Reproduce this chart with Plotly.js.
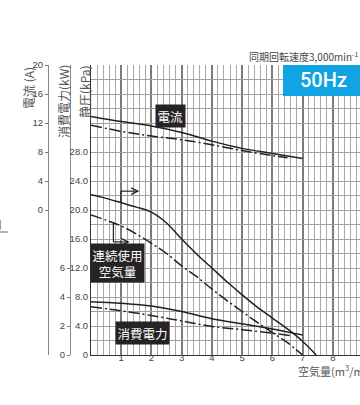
<!DOCTYPE html>
<html><head><meta charset="utf-8">
<script src="https://cdn.plot.ly/plotly-3.0.1.min.js"></script>
<style>html,body{margin:0;padding:0;background:#fff}#c{width:360px;height:405px}</style>
</head><body><div id="c"></div>
<script>
// Air flow (m3/min)
const xCurrent = [0, 1, 2, 3, 4, 5, 6, 7];
const currentSolid = [12.9, 12.2, 11.6, 10.7, 9.5, 8.5, 7.8, 7.1];   // A
const xCurrentDash = [0, 1, 2, 3, 4, 5, 6, 6.5];
const currentDash = [11.7, 10.85, 10.2, 9.7, 9.0, 8.2, 7.5, 7.2];     // A

const xPress = [0, 0.5, 1, 1.5, 2, 2.5, 3, 3.5, 4, 4.5, 5, 5.5, 6, 6.5, 7, 7.45];
const pressSolid = [22.1, 21.6, 21.0, 20.4, 19.7, 18.2, 16.0, 13.9, 12.0, 10.1, 8.3, 6.6, 5.1, 3.6, 1.9, 0]; // kPa
const xPressDash = [0, 0.5, 1, 1.5, 2, 2.5, 3, 3.5, 4, 4.5, 5, 5.5, 6, 6.5, 7];
const pressDash = [19.3, 18.6, 17.8, 16.7, 15.4, 14.0, 12.3, 10.8, 9.1, 7.5, 6.0, 4.5, 3.1, 1.7, 0]; // kPa

const xPower = [0, 1, 2, 3, 4, 5, 6, 7];
const powerSolid = [3.68, 3.57, 3.38, 3.0, 2.5, 2.15, 1.8, 1.38];      // kW
const xPowerDash = [0, 1, 2, 3, 4, 5, 6, 6.6];
const powerDash = [3.33, 3.05, 2.72, 2.35, 1.97, 1.75, 1.5, 1.33];    // kW

const xTicks = [1, 2, 3, 4, 5, 6, 7, 8];
const xMinorGrid = [];
for (let i = 1; i <= 44; i++) { if (i % 5 !== 0) xMinorGrid.push(Math.round(i * 2) / 10); }
const kPaGrid = [0,2,4,6,8,10,12,14,16,18,20,22,24,26,28,30,32,34,36,38,40];
const kPaLabels = ["0","","4.0","","8.0","","12.0","","16.0","","20.0","","24.0","","28.0","","","","","",""];
const ampTicks = [0, 4, 8, 12, 16, 20];
const kwTicks = [0, 2, 4, 6];

const lineCol = '#222';
const dashStyle = '11px,3px,2px,3px';
const tickFont = {family: 'Liberation Sans Narrow, Arial Narrow, Liberation Sans, Arial', size: 9.5, color: '#444'};
const jp = 'Noto Sans CJK JP, Noto Sans, sans-serif';

const traces = [
  {x: xCurrent, y: currentSolid, yaxis: 'y2', mode: 'lines', line: {color: lineCol, width: 1.5, shape: 'spline'}},
  {x: xCurrentDash, y: currentDash, yaxis: 'y2', mode: 'lines', line: {color: lineCol, width: 1.5, dash: dashStyle, shape: 'spline'}},
  {x: xPress, y: pressSolid, yaxis: 'y', mode: 'lines', line: {color: lineCol, width: 1.5, shape: 'spline'}},
  {x: xPressDash, y: pressDash, yaxis: 'y', mode: 'lines', line: {color: lineCol, width: 1.5, dash: dashStyle, shape: 'spline'}},
  {x: xPower, y: powerSolid, yaxis: 'y3', mode: 'lines', line: {color: lineCol, width: 1.5, shape: 'spline'}},
  {x: xPowerDash, y: powerDash, yaxis: 'y3', mode: 'lines', line: {color: lineCol, width: 1.5, dash: dashStyle, shape: 'spline'}}
];

// figure-pixel helpers (plot area: x 91..360, y 65..355)
const PX = p => p / 360;
const PY = p => (355 - p) / 290;

const arrowLine = {color: '#222', width: 1.2};
const shapes = [
  {type: 'line', xref: 'x', yref: 'y', x0: 0.99, y0: 21.0, x1: 0.99, y1: 22.6, line: arrowLine},
  {type: 'line', xref: 'x', yref: 'y', x0: 0.99, y0: 22.6, x1: 1.55, y1: 22.6, line: arrowLine},
  {type: 'path', xref: 'x', yref: 'y', path: 'M 1.33,23.05 L 1.55,22.6 L 1.33,22.15', line: arrowLine},
  {type: 'line', xref: 'x', yref: 'y', x0: 0.74, y0: 18.2, x1: 0.74, y1: 15.6, line: arrowLine},
  {type: 'line', xref: 'x', yref: 'y', x0: 0.74, y0: 15.6, x1: 1.23, y1: 15.6, line: arrowLine},
  {type: 'path', xref: 'x', yref: 'y', path: 'M 1.01,16.05 L 1.23,15.6 L 1.01,15.15', line: arrowLine},
  {type: 'rect', layer: 'above', xref: 'paper', yref: 'paper', x0: PX(283), x1: 1, y0: PY(96), y1: PY(65), fillcolor: '#10a4e2', line: {width: 0}},
  {type: 'line', xref: 'paper', yref: 'paper', x0: 0, x1: PX(8), y0: PY(232), y1: PY(232), line: {color: '#666', width: 1}}
];

const box = (text, x, y, size) => ({text, x, y, xref: 'x', yref: 'y', showarrow: false,
  xanchor: 'center', yanchor: 'middle',
  bgcolor: '#262324', borderpad: 1.5, font: {family: jp, size: size, color: '#fff'}});

const pa = (text, px, py, opts) => Object.assign({text, xref: 'paper', yref: 'paper', x: PX(px), y: PY(py),
  xanchor: 'center', yanchor: 'middle', showarrow: false}, opts);

const annotations = [
  box('電流', 2.64, 32.9, 12.5),
  box('連続使用<br>空気量', 0.89, 12.7, 12.5),
  box('消費電力', 1.70, 3.1, 12.5),
  pa('電流 (A)', 28, 88, {textangle: -90, font: {family: jp, size: 12, color: '#555'}}),
  pa('消費電力(kW)', 63, 101, {textangle: -90, font: {family: jp, size: 12, color: '#555'}}),
  pa('静圧(kPa)', 85, 92, {textangle: -90, font: {family: jp, size: 12, color: '#555'}}),
  pa('空気量(m<sup>3</sup>/min)', 296, 370, {xanchor: 'left', font: {family: jp, size: 11, color: '#555'}}),
  pa('同期回転速度3,000min<sup>-1</sup>', 247, 56, {xanchor: 'left', font: {family: jp, size: 10, color: '#444'}}),
  pa('50Hz', 323, 80, {font: {family: 'Roboto, Liberation Sans, Arial, sans-serif', size: 20, weight: 500, color: '#fff'}}),
  pa('口', 4, 224, {xanchor: 'right', font: {family: jp, size: 11, color: '#666'}})
];

const layout = {
  width: 360, height: 405,
  margin: {l: 0, r: 0, t: 65, b: 50, pad: 0},
  paper_bgcolor: '#fff', plot_bgcolor: '#fff',
  showlegend: false,
  xaxis: {domain: [91/360, 1], range: [0, 8.9], tickmode: 'array', tickvals: xTicks, ticks: '',
    showline: true, linecolor: '#333', linewidth: 1, zeroline: false, mirror: false,
    showgrid: true, gridcolor: '#7c7c7c', gridwidth: 2, tickfont: tickFont, ticklabelstandoff: -6,
    minor: {tickmode: 'array', tickvals: xMinorGrid, showgrid: true, gridcolor: '#a8a8a8', gridwidth: 1}},
  yaxis: {domain: [0, 1], range: [0, 40], tickmode: 'array', tickvals: kPaGrid, ticktext: kPaLabels, ticks: '',
    showline: true, linecolor: '#333', linewidth: 1, zeroline: false,
    showgrid: true, gridcolor: '#a0a0a0', gridwidth: 1, tickfont: tickFont},
  yaxis2: {overlaying: 'y', anchor: 'free', position: 48/360, side: 'left', range: [-20, 20],
    tickmode: 'array', tickvals: ampTicks, ticks: 'outside', ticklen: 3, tickcolor: '#777',
    showline: true, linecolor: '#888', showgrid: false, zeroline: false, tickfont: tickFont},
  yaxis3: {overlaying: 'y', anchor: 'free', position: 70/360, side: 'left', range: [0, 20],
    tickmode: 'array', tickvals: kwTicks, ticks: 'outside', ticklen: 3, tickcolor: '#777',
    showline: true, linecolor: '#888', showgrid: false, zeroline: false, tickfont: tickFont},
  shapes, annotations
};

Plotly.newPlot('c', traces, layout, {displayModeBar: false, staticPlot: true});
</script></body></html>
